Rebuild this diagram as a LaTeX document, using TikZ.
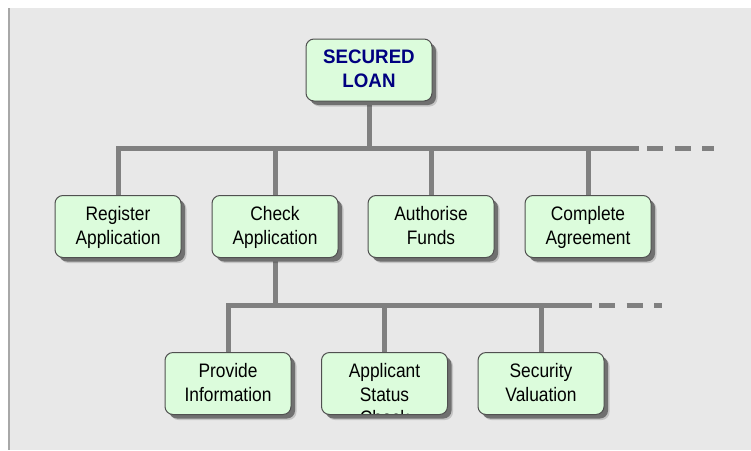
\documentclass[tikz,border=0pt]{standalone}
\usepackage{fontspec}
\usetikzlibrary{shadows}

% Arial-like faces, slightly condensed
\newfontfamily\boxfont[FakeStretch=0.89]{Liberation Sans}
\newfontfamily\rootfont[FakeStretch=0.96]{Liberation Sans}

\definecolor{panelbg}{RGB}{232,232,232}
\definecolor{paneledge}{RGB}{168,168,168}
\definecolor{wiregray}{RGB}{128,128,128}
\definecolor{boxfill}{RGB}{220,252,220}
\definecolor{boxline}{RGB}{80,80,80}
\definecolor{navytext}{RGB}{0,0,128}
\definecolor{shadegray}{RGB}{112,112,112}

\tikzset{
  % fixed text box: the last baseline sits 17.5pt below the box centre
  taskbox/.style={draw=boxline, line width=1pt, fill=boxfill,
    rounded corners=8pt, minimum width=126pt, minimum height=62pt,
    inner sep=0pt, align=center, text height=39pt, text depth=4pt,
    font=\boxfont\fontsize{19.5}{24}\selectfont,
    general shadow={shadow xshift=5.5pt, shadow yshift=-5.5pt, fill=black, opacity=0.15},
    general shadow={shadow xshift=4pt, shadow yshift=-4pt, fill=shadegray}},
  rootbox/.style={taskbox, text=navytext,
    font=\rootfont\bfseries\fontsize{19.5}{24}\selectfont},
  boxtext/.style={inner sep=0pt, align=center,
    font=\boxfont\fontsize{19.5}{24}\selectfont},
  wire/.style={draw=wiregray, line width=5pt},
  wiretail/.style={wire, dash pattern=on 16pt off 11.5pt},
}

\begin{document}
\begin{tikzpicture}[x=1pt, y=-1pt]
  \useasboundingbox (0,0) rectangle (751,450);

  % grey panel
  \fill[panelbg] (8,8) rectangle (751,450);
  \draw[paneledge, line width=1.5pt] (8.75,8) -- (8.75,450);

  % bus coordinates
  \coordinate (busAL) at (118,148);
  \coordinate (busAR) at (636,148);
  \coordinate (tailAL) at (647,148);
  \coordinate (tailAR) at (714,148);
  \coordinate (busBL) at (228,305);
  \coordinate (busBR) at (589,305);
  \coordinate (tailBL) at (599,305);
  \coordinate (tailBR) at (662,305);

  % node positions
  \coordinate (pRoot) at (369,70);
  \coordinate (pReg)  at (118,226.5);
  \coordinate (pChk)  at (275,226.5);
  \coordinate (pAuth) at (431,226.5);
  \coordinate (pComp) at (588,226.5);
  \coordinate (pInfo) at (228,383.5);
  \coordinate (pStat) at (384.5,383.5);
  \coordinate (pVal)  at (541,383.5);

  % connectors (drawn first, boxes sit on top)
  \draw[wire] (pRoot) -- (pRoot |- busAL);
  \draw[wire, line cap=rect] (busAL) -- (busAR);
  \draw[wiretail] (tailAL) -- (tailAR);
  \foreach \p in {pReg,pChk,pAuth,pComp}
    \draw[wire] (\p |- busAL) -- (\p);
  \draw[wire] (pChk) -- (pChk |- busBL);
  \draw[wire, line cap=rect] (busBL) -- (busBR);
  \draw[wiretail] (tailBL) -- (tailBR);
  \foreach \p in {pInfo,pStat,pVal}
    \draw[wire] (\p |- busBL) -- (\p);

  % boxes
  \node[rootbox] (root) at (pRoot) {SECURED\\LOAN};
  \node[taskbox] (reg)  at (pReg)  {Register\\Application};
  \node[taskbox] (chk)  at (pChk)  {Check\\Application};
  \node[taskbox] (auth) at (pAuth) {Authorise\\Funds};
  \node[taskbox] (comp) at (pComp) {Complete\\Agreement};
  \node[taskbox] (info) at (pInfo) {Provide\\Information};
  \node[taskbox] (stat) at (pStat) {};
  \node[taskbox] (val)  at (pVal)  {Security\\Valuation};

  % overflowing label, clipped to its box (third baseline 40.5pt below centre)
  \begin{scope}
    \clip ([xshift=1pt, yshift=1.5pt]stat.south west) rectangle ([xshift=-1pt]stat.north east);
    \node[boxtext, text height=85pt, text depth=4pt] (stattext) at (stat.center)
      {Applicant\\Status\\[-1pt]Check};
  \end{scope}
\end{tikzpicture}
\end{document}
